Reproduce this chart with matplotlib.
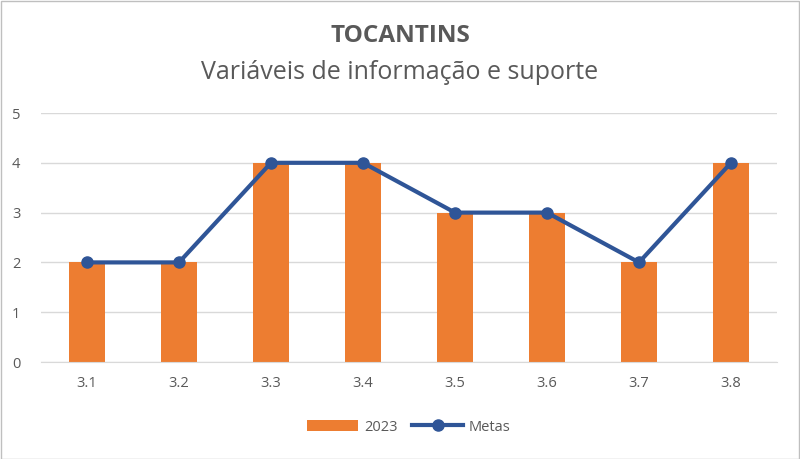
import numpy as np
import matplotlib.pyplot as plt
from matplotlib.patches import Rectangle

# categories and values
categorias = ['3.1', '3.2', '3.3', '3.4', '3.5', '3.6', '3.7', '3.8']
valores_2023 = [2, 2, 4, 4, 3, 3, 2, 4]
metas = [2, 2, 4, 4, 3, 3, 2, 4]

plt.rcParams['font.family'] = ['Open Sans', 'DejaVu Sans']

fig = plt.figure(figsize=(8, 4.59), dpi=100)
ax = fig.add_axes([0.05125, 0.2113, 0.92, 0.5425])

x = np.arange(len(categorias))
barras = ax.bar(x, valores_2023, width=0.4, color='#ED7D31', label='2023', zorder=2)
linha, = ax.plot(x, metas, color='#2F5597', linewidth=3, marker='o', markersize=8,
                 label='Metas', zorder=3)

ax.set_xlim(-0.5, len(categorias) - 0.5)
ax.set_ylim(0, 5)
ax.set_yticks(range(6))
ax.set_xticks(x)
ax.set_xticklabels(categorias)
ax.grid(axis='y', color='#D9D9D9', linewidth=1, zorder=0)
for s in ['top', 'right', 'left']:
    ax.spines[s].set_visible(False)
ax.spines['bottom'].set_color('#D9D9D9')
ax.tick_params(axis='both', length=0, labelsize=10.5, colors='#595959')
ax.tick_params(axis='x', pad=10)
ax.tick_params(axis='y', pad=21)
for lbl in ax.get_yticklabels():
    lbl.set_horizontalalignment('left')

fig.text(0.5, 0.922, 'TOCANTINS', ha='center', va='center', fontsize=17.5,
         fontweight='bold', color='#595959')
fig.text(0.5, 0.843, 'Variáveis de informação e suporte', ha='center',
         va='center', fontsize=18, color='#595959')

ax.legend([barras, linha], ['2023', 'Metas'], loc='center',
          bbox_to_anchor=(0.5, -0.261), ncol=2, frameon=False,
          fontsize=10.5, labelcolor='#595959', handlelength=3.5,
          handletextpad=0.4, columnspacing=1.0)

fig.patches.append(Rectangle((0.001, 0.001), 0.998, 0.997, transform=fig.transFigure,
                             fill=False, edgecolor='#BFBFBF', linewidth=1))

fig.savefig('out.png', dpi=100)
